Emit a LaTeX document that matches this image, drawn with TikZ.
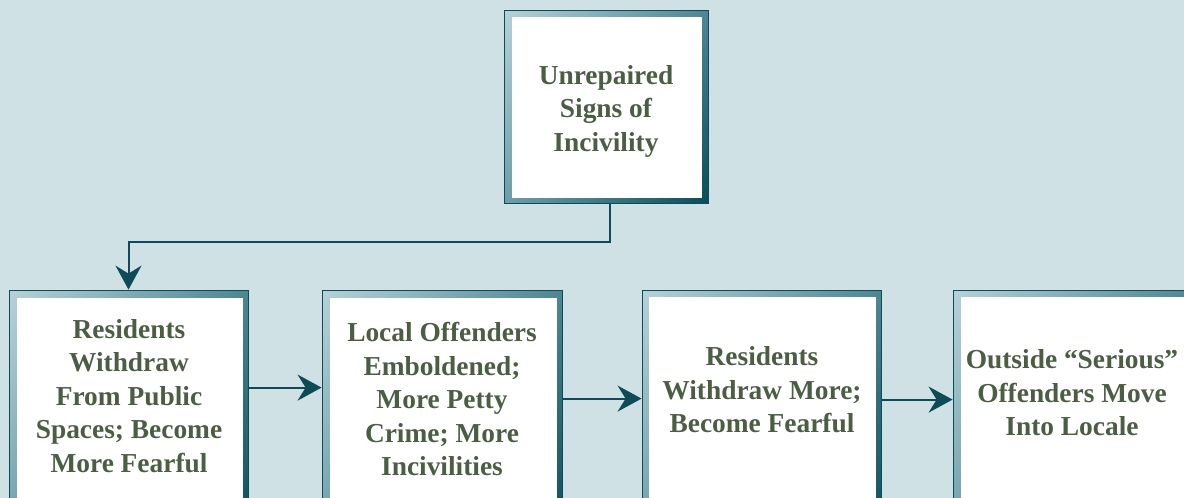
\documentclass[tikz,border=0pt]{standalone}
\usepackage{fontspec}
\setmainfont{Liberation Serif}
\usetikzlibrary{arrows.meta,shadings}
\definecolor{bgblue}{HTML}{D0E1E6}
\definecolor{framelt}{HTML}{B8D2D8}
\definecolor{framemid}{HTML}{4E8692}
\definecolor{framelo}{HTML}{6E9FA9}
\definecolor{framedk}{HTML}{0A4C58}
\definecolor{linedk}{HTML}{0F4B57}
\definecolor{txtgreen}{HTML}{4B5E44}
\tikzset{
  frame/.style={rectangle, draw=framedk, line width=0.8pt, inner sep=0pt,
    upper left=framelt, upper right=framemid, lower left=framelo, lower right=framedk, shade},
  inner/.style={rectangle, fill=white, inner sep=0pt},
  lbl/.style={align=center, text=txtgreen, font=\bfseries\fontsize{27.4}{33.5}\selectfont, inner sep=0pt},
  arr/.style={draw=linedk, line width=2pt, -{Stealth[length=24pt, width=26pt, inset=8pt]}}
}
\begin{document}
\begin{tikzpicture}[x=1pt, y=-1pt]
  \useasboundingbox (0,0) rectangle (1184,498);
  \clip (0,0) rectangle (1184,498);
  \fill[bgblue] (0,0) rectangle (1184,498);
  % top box
  \node[frame, minimum width=204pt, minimum height=193pt] (unrep) at (606,106.5) {};
  \node[inner, minimum width=190pt, minimum height=181pt] (unrep-in) at (607,107.5) {};
  \node[lbl] (unrep-t) at (606,111) {Unrepaired\\Signs of\\Incivility};
  % bottom row
  \node[frame, minimum width=239pt, minimum height=250pt] (r1) at (128.5,415) {};
  \node[inner, minimum width=226pt, minimum height=238pt] (r1-in) at (130,417) {};
  \node[lbl] (r1-t) at (129,396) {Residents\\Withdraw\\From Public\\Spaces; Become\\More Fearful};
  \node[frame, minimum width=240pt, minimum height=250pt] (r2) at (442,415) {};
  \node[inner, minimum width=227pt, minimum height=238pt] (r2-in) at (443,417) {};
  \node[lbl] (r2-t) at (442,399) {Local Offenders\\Emboldened;\\More Petty\\Crime; More\\Incivilities};
  \node[frame, minimum width=239pt, minimum height=250pt] (r3) at (761.5,415) {};
  \node[inner, minimum width=227pt, minimum height=238pt] (r3-in) at (762.5,416) {};
  \node[lbl] (r3-t) at (762,390) {Residents\\Withdraw More;\\Become Fearful};
  \node[frame, minimum width=240pt, minimum height=250pt] (r4) at (1073,415) {};
  \node[inner, minimum width=227pt, minimum height=238pt] (r4-in) at (1074.5,416) {};
  \node[lbl] (r4-t) at (1072,393) {Outside ``Serious''\\Offenders Move\\Into Locale};
  % connectors
  \draw[arr] ([xshift=4pt]unrep.south) -- ++(0,39) -| (r1.north);
  \draw[arr] ([yshift=-98pt]r1.north east) -- ([yshift=-98pt]r2.north west);
  \draw[arr] ([yshift=-109pt]r2.north east) -- ([yshift=-109pt]r3.north west);
  \draw[arr] ([yshift=-110pt]r3.north east) -- ([yshift=-110pt]r4.north west);
\end{tikzpicture}
\end{document}
